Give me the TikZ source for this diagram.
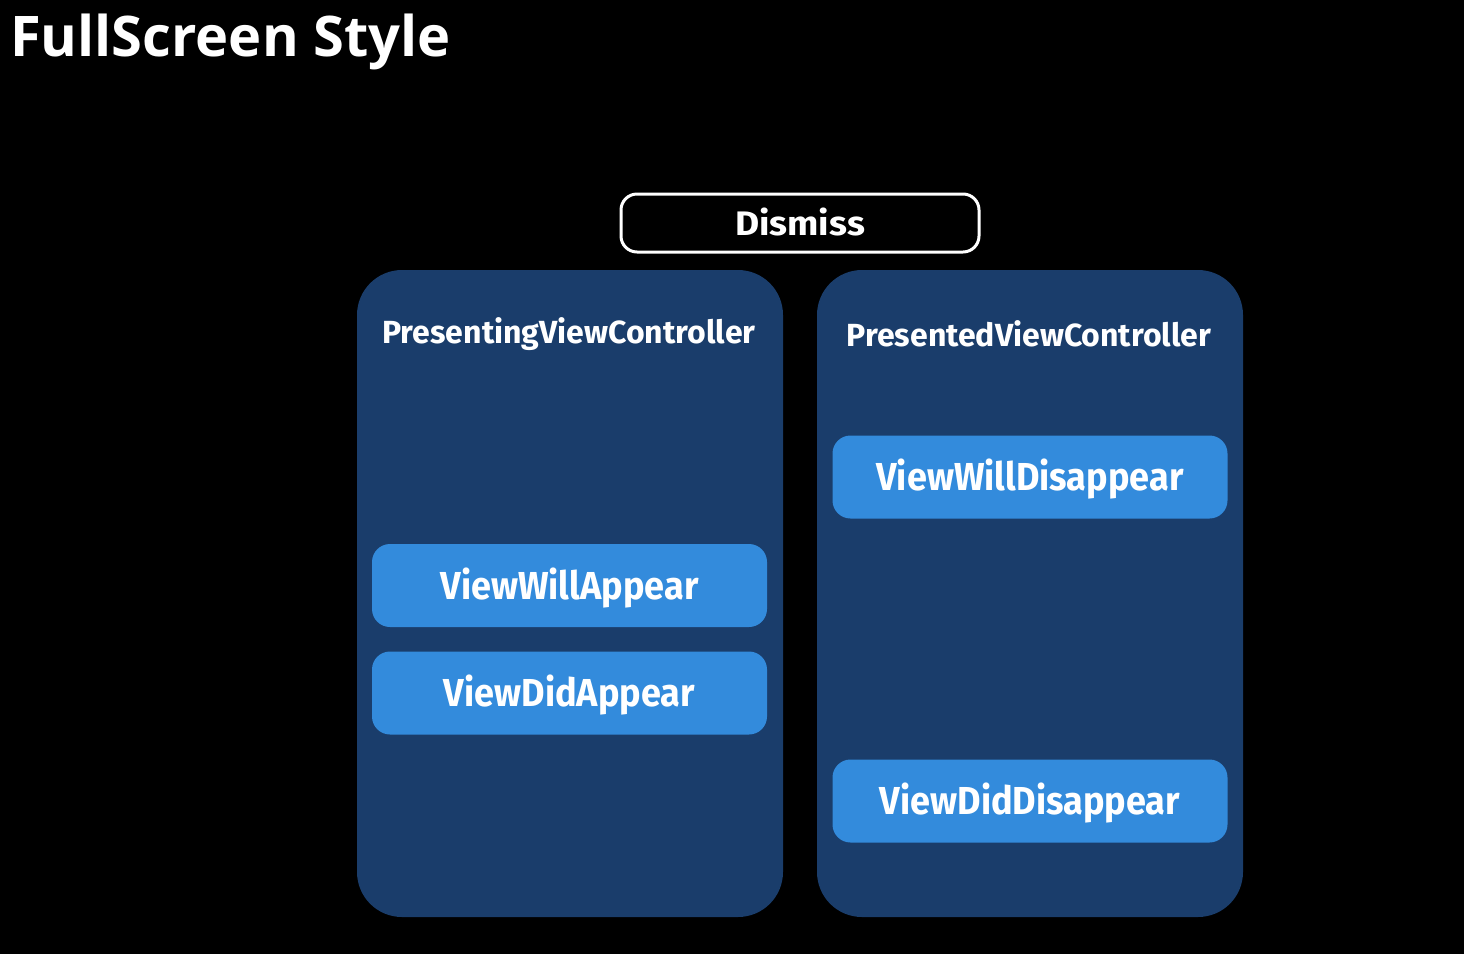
\documentclass[tikz,border=0pt]{standalone}
\usepackage{fontspec}
\setmainfont{Open Sans}
\newfontfamily\boxfont[FakeStretch=0.925]{Fira Sans}
\newfontfamily\ptitlefont{Fira Sans}
\newfontfamily\dismissfont[FakeStretch=1.09]{Fira Sans}
\newfontfamily\titlefont{Open Sans}
\definecolor{panelblue}{HTML}{1A3D6B}
\definecolor{btnblue}{HTML}{338BDC}
\tikzset{
  panel/.style={fill=panelblue, rounded corners=45pt, minimum width=426pt, minimum height=647pt, inner sep=0pt},
  btn/.style={fill=btnblue, rounded corners=18pt, minimum width=395pt, minimum height=83pt, inner sep=0pt,
    text=white, font=\boxfont\bfseries\fontsize{39}{39}\selectfont, text height=27pt, text depth=0pt},
  ptitle/.style={text=white, font=\ptitlefont\bfseries\fontsize{32}{32}\selectfont, inner sep=0pt, text height=22pt, text depth=0pt},
  dismissbox/.style={draw=white, line width=3pt, fill=black, rounded corners=16pt, minimum width=358pt, minimum height=58pt,
    inner sep=0pt, text=white, font=\dismissfont\bfseries\fontsize{34}{34}\selectfont, text height=24pt, text depth=0pt}
}
\begin{document}
\begin{tikzpicture}[x=1pt,y=-1pt]
\fill[black] (0,0) rectangle (1464,954);
\useasboundingbox (0,0) rectangle (1464,954);
\node[anchor=base west, inner sep=0pt, text=white, font=\titlefont\bfseries\fontsize{56}{56}\selectfont] (title) at (10,56) {FullScreen Style};
\node[dismissbox] (dismiss) at (800,223) {Dismiss};
\node[panel] (presenting) at (570,593.5) {};
\node[panel] (presented) at (1030,593.5) {};
\node[ptitle] (presentingtitle) at (569,332) {PresentingViewController};
\node[ptitle] (presentedtitle) at (1029,335) {PresentedViewController};
\node[btn] (willappear) at (569.5,585.5) {ViewWillAppear};
\node[btn] (didappear) at (569.5,693) {ViewDidAppear};
\node[btn] (willdisappear) at (1030,477) {ViewWillDisappear};
\node[btn] (diddisappear) at (1030,801) {ViewDidDisappear};
\end{tikzpicture}
\end{document}
